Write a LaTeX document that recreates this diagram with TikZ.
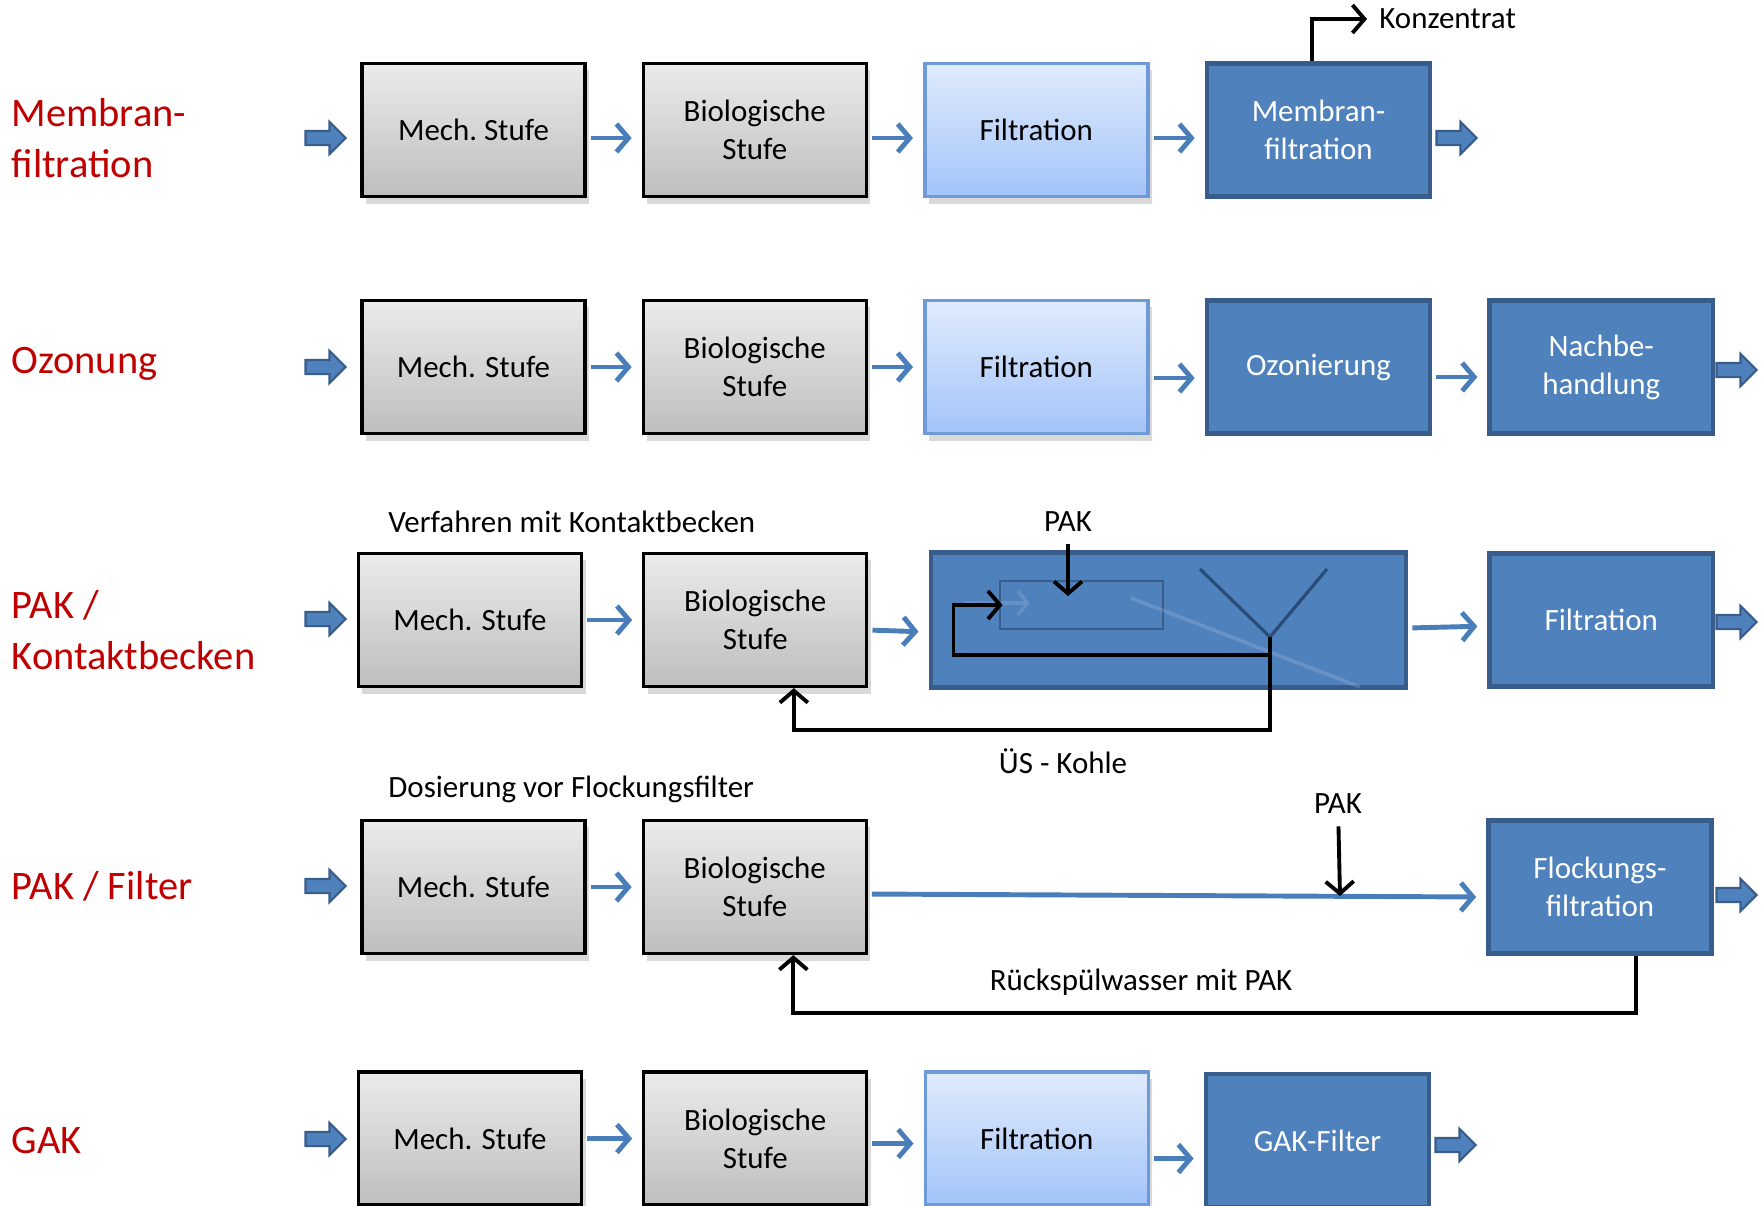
\documentclass[tikz,border=0pt]{standalone}
\usepackage{fontspec}
\setmainfont{Carlito}
\usepackage{tikz}
\definecolor{rottext}{RGB}{192,0,0}
\definecolor{boxblue}{RGB}{79,129,189}
\definecolor{boxrand}{RGB}{56,93,138}
\definecolor{flowblue}{RGB}{74,126,187}
\definecolor{trichterblau}{RGB}{40,75,120}
\definecolor{hellblau1}{RGB}{224,235,253}
\definecolor{hellblau2}{RGB}{163,196,249}
\definecolor{hellrand}{RGB}{110,155,215}
\definecolor{grau1}{RGB}{235,235,235}
\definecolor{grau2}{RGB}{190,190,190}
\usetikzlibrary{arrows.meta,shapes,positioning,shadows}
\tikzset{
	stufe/.style={
		rectangle,
		draw=black,
		line width=0.9pt,
		top color=grau1,
		bottom color=grau2,
		drop shadow={shadow xshift=0.4mm,shadow yshift=-0.7mm,opacity=0.3},
		minimum width=2.23cm,
		minimum height=1.33cm,
		align=center,
		font=\fontsize{8.8}{10.8}\selectfont
	},
	filterbox/.style={
		stufe,
		draw=hellrand,
		line width=1pt,
		top color=hellblau1,
		bottom color=hellblau2
	},
	blaubox/.style={
		rectangle,
		draw=boxrand,
		line width=1.3pt,
		fill=boxblue,
		text=white,
		minimum width=2.23cm,
		minimum height=1.33cm,
		align=center,
		font=\fontsize{8.8}{10.8}\selectfont
	},
	fatarrow/.style={
		single arrow,
		draw=boxrand,
		fill=boxblue,
		line width=0.6pt,
		minimum height=0.4cm,
		inner sep=0.06cm,
		single arrow head extend=0.09cm
	},
	flow/.style={
		draw=flowblue,
		line width=1.4pt,
		shorten <=0.04cm,
		shorten >=0.1cm,
		-{Straight Barb[length=1.2mm,width=2.8mm]}
	},
	rueck/.style={
		draw=black,
		line width=1.1pt,
		-{Straight Barb[length=1.2mm,width=2.8mm]}
	},
	verfahren/.style={
		anchor=west,
		align=left,
		inner sep=0pt,
		text=rottext,
		font=\fontsize{11.5}{14.4}\selectfont
	},
	klein/.style={
		font=\fontsize{8.8}{10.8}\selectfont
	},
}

\begin{document}
\begin{tikzpicture}[x=0.01cm,y=-0.01cm,node distance=0.55cm]
\useasboundingbox (0,0) rectangle (1763,1205);

% Membranfiltration
\node [verfahren] (v1) at (11,138) {Membran-\\filtration};
\node [fatarrow] (in1) at (322,138) {};
\node [stufe] (m1) at (473.5,130) {Mech.\ Stufe};
\node [stufe] (b1) [right=of m1] {Biologische\\Stufe};
\node [filterbox] (f1) [right=of b1] {Filtration};
\node [blaubox] (mf) [right=of f1] {Membran-\\filtration};
\node [fatarrow] (out1) at (1453,138) {};
\node [klein,anchor=west] (konz) at (1367,19) {Konzentrat};
\draw[flow] ([yshift=-0.08cm]m1.east) -- ([yshift=-0.08cm]b1.west);
\draw[flow] ([yshift=-0.08cm]b1.east) -- ([yshift=-0.08cm]f1.west);
\draw[flow] ([yshift=-0.08cm]f1.east) -- ([yshift=-0.08cm]mf.west);
\draw[rueck] ([xshift=-0.065cm]mf.north) |- (konz.west);

% Ozonung
\node [verfahren] (v2) at (11,364) {Ozonung};
\node [fatarrow] (in2) at (322,367) {};
\node [stufe] (m2) at (473.5,367) {Mech. Stufe};
\node [stufe] (b2) [right=of m2] {Biologische\\Stufe};
\node [filterbox] (f2) [right=of b2] {Filtration};
\node [blaubox] (oz) [right=of f2] {Ozonierung};
\node [blaubox] (nb) [right=of oz] {Nachbe-\\handlung};
\node [fatarrow] (out2) at (1733,370) {};
\draw[flow] (m2.east) -- (b2.west);
\draw[flow] (b2.east) -- (f2.west);
\draw[flow] ([yshift=-0.11cm]f2.east) -- ([yshift=-0.11cm]oz.west);
\draw[flow] ([yshift=-0.1cm]oz.east) -- ([yshift=-0.1cm]nb.west);

% PAK / Kontaktbecken
\node [verfahren] (v3) at (11,630) {PAK /\\Kontaktbecken};
\node [fatarrow] (in3) at (322,619) {};
\node [stufe] (m3) at (470,620) {Mech. Stufe};
\node [stufe] (b3) [right=0.59cm of m3] {Biologische\\Stufe};
\node [blaubox,minimum width=4.75cm,minimum height=1.35cm] (kb) [right=0.6cm of b3] {};
\node [blaubox] (ft3) [right=0.79cm of kb] {Filtration};
\node [fatarrow] (out3) at (1733,622) {};
\node [klein,anchor=west] (t3) at (376,522) {Verfahren mit Kontaktbecken};
\node [draw=boxrand,line width=0.8pt,minimum width=1.63cm,minimum height=0.48cm] (mix) at (1081.5,605) {};
\draw[white,opacity=0.15,line width=1pt] (1131,598) -- (1360,687);
\draw[white,opacity=0.12,line width=1pt,-{Straight Barb[length=1mm,width=2.4mm]}] (965,603) -- (1030,603);
\coordinate (spitze) at (1270,637);
\coordinate (abzug) at (1270,655);
\coordinate (rueck1) at (1000,730);
\draw[trichterblau,line width=0.9pt] (1200,569) -- (spitze) -- (1327,569);
\node [klein] (pak1) at (1068,522) {PAK};
\coordinate (dos1) at (1068,596);
\draw[rueck] (pak1) -- (dos1);
\draw[rueck,shorten >=-0.04cm] (abzug) -| ([xshift=-0.45cm]mix.west) -- (mix.west);
\draw[rueck] (spitze) |- (rueck1) -| ([xshift=0.385cm]b3.south);
\node [klein] (us) at (1063,761) {ÜS - Kohle};
\draw[flow] (m3.east) -- (b3.west);
\draw[flow] ([yshift=-0.1cm]b3.east) -- ([yshift=-0.12cm]kb.west);
\draw[flow] ([yshift=-0.08cm]kb.east) -- ([yshift=-0.06cm]ft3.west);

% PAK / Filter
\node [verfahren] (v4) at (11,886) {PAK / Filter};
\node [fatarrow] (in4) at (322,886) {};
\node [stufe] (m4) at (473.5,887) {Mech. Stufe};
\node [stufe] (b4) [right=of m4] {Biologische\\Stufe};
\node [blaubox] (fl4) at (1600,887) {Flockungs-\\filtration};
\node [fatarrow] (out4) at (1733,895) {};
\node [klein,anchor=west] (t4) at (376,789) {Dosierung vor Flockungsfilter};
\node [klein] (pak2) at (1338,804) {PAK};
\coordinate (dos2) at (1340,896);
\coordinate (rueck2) at (1000,1013);
\draw[flow] (m4.east) -- (b4.west);
\draw[flow] ([yshift=-0.07cm]b4.east) -- ([yshift=-0.1cm]fl4.west);
\draw[rueck] (pak2) -- (dos2);
\draw[rueck] ([xshift=0.36cm]fl4.south) |- (rueck2) -| ([xshift=0.385cm]b4.south);
\node [klein] (rsp) at (1141,982) {Rückspülwasser mit PAK};

% GAK
\node [verfahren] (v5) at (11,1140) {GAK};
\node [fatarrow] (in5) at (322,1139) {};
\node [stufe] (m5) at (470,1138.5) {Mech. Stufe};
\node [stufe] (b5) [right=0.59cm of m5] {Biologische\\Stufe};
\node [filterbox] (f5) [right=of b5] {Filtration};
\node [blaubox] (gak) at (1317.5,1140.5) {GAK-Filter};
\node [fatarrow] (out5) at (1452,1145) {};
\draw[flow] (m5.east) -- (b5.west);
\draw[flow] ([yshift=-0.05cm]b5.east) -- ([yshift=-0.05cm]f5.west);
\draw[flow] ([yshift=-0.2cm]f5.east) -- ([yshift=-0.18cm]gak.west);
\end{tikzpicture}
\end{document}
